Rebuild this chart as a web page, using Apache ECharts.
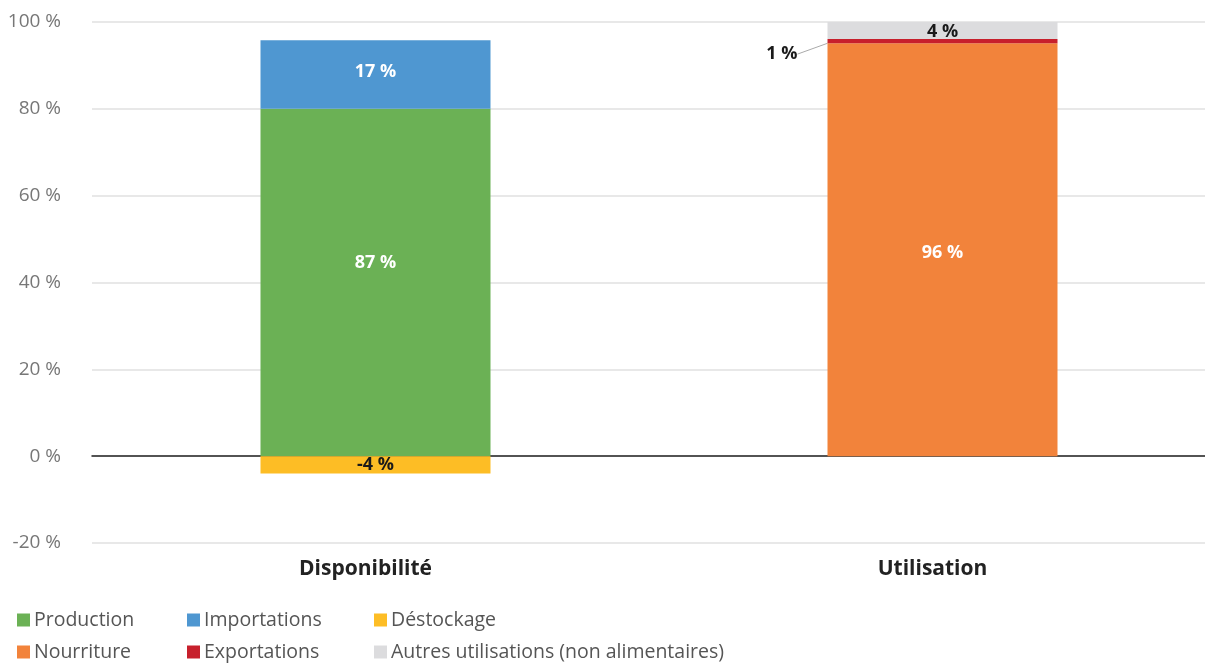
<!DOCTYPE html>
<html><head><meta charset="utf-8">
<script src="https://cdn.jsdelivr.net/npm/echarts@6/dist/echarts.min.js"></script>
<style>html,body{margin:0;padding:0;background:#fff}#c{width:1205px;height:664px}</style>
</head><body><div id="c"></div>
<script>
const categories = ['Disponibilité', 'Utilisation'];
const yTicks = {min: -20, max: 100, interval: 20};
const seriesNames = ['Production', 'Importations', 'Déstockage', 'Nourriture', 'Exportations', 'Autres utilisations (non alimentaires)'];
const production = [80, null];
const importations = [15.8, null];
const destockage = [-4, null];
const nourriture = [null, 95.1];
const exportations = [null, 1];
const autres = [null, 3.9];
const labelsText = ['87 %', '17 %', '-4 %', '96 %', '1 %', '4 %'];
const colors = ['#6bb155', '#4f97d1', '#fdbd25', '#f2833b', '#c7202c', '#dcdcde'];

const values = [production, importations, destockage, nourriture, exportations, autres];
const labelColors = ['#fff', '#fff', '#1a1a1a', '#fff', '#1a1a1a', '#1a1a1a'];
const labelShift = [-20, -3, 0, 3, 13, 1];

const series = values.map((v, i) => {
  const s = {
    name: seriesNames[i], type: 'bar', stack: 'total', barWidth: 230,
    data: v, itemStyle: {color: colors[i]},
    label: {show: true, position: 'inside', formatter: () => labelsText[i],
      color: labelColors[i], fontFamily: 'Open Sans', fontWeight: 'bold', fontSize: 18},
    labelLayout: {dy: labelShift[i]},
    emphasis: {disabled: true}
  };
  if (i === 4) {
    s.label.position = 'left';
    s.label.distance = 30;
    s.labelLine = {show: true, lineStyle: {color: '#aaa', width: 1}};
  }
  return s;
});

const legendPos = [[17, 610], [187, 610], [374, 610], [17, 642], [187, 642], [374, 642]];
const legends = seriesNames.map((n, i) => ({
  data: [n], left: legendPos[i][0], top: legendPos[i][1], icon: 'rect', itemWidth: 13, itemHeight: 13,
  itemGap: 0, padding: 0,
  textStyle: {fontFamily: 'Open Sans', fontSize: 19.5, color: '#555', padding: [0, 0, 0, -1]},
  selectedMode: false
}));

const chart = echarts.init(document.getElementById('c'));
chart.setOption({
  animation: false,
  color: colors,
  grid: {left: 92, top: 22, width: 1134, height: 521, containLabel: false, outerBoundsMode: 'none'},
  legend: legends,
  xAxis: {type: 'category', data: categories,
    axisLine: {show: true, onZero: true, lineStyle: {color: '#222', width: 1.5}},
    axisTick: {show: false},
    axisLabel: {interval: 0, margin: 16, fontFamily: 'Open Sans', fontWeight: 'bold', fontSize: 21, color: '#222',
      padding: [0, 20, 0, 0]},
    position: 'bottom'
  },
  yAxis: {type: 'value', min: yTicks.min, max: yTicks.max, interval: yTicks.interval,
    axisLine: {show: false}, axisTick: {show: false},
    axisLabel: {margin: 31, fontFamily: 'Open Sans', fontSize: 19, color: '#777', formatter: v => v + ' %'},
    splitLine: {lineStyle: {color: '#e0e0e0', width: 1.5}}
  },
  series: series
});
</script></body></html>
